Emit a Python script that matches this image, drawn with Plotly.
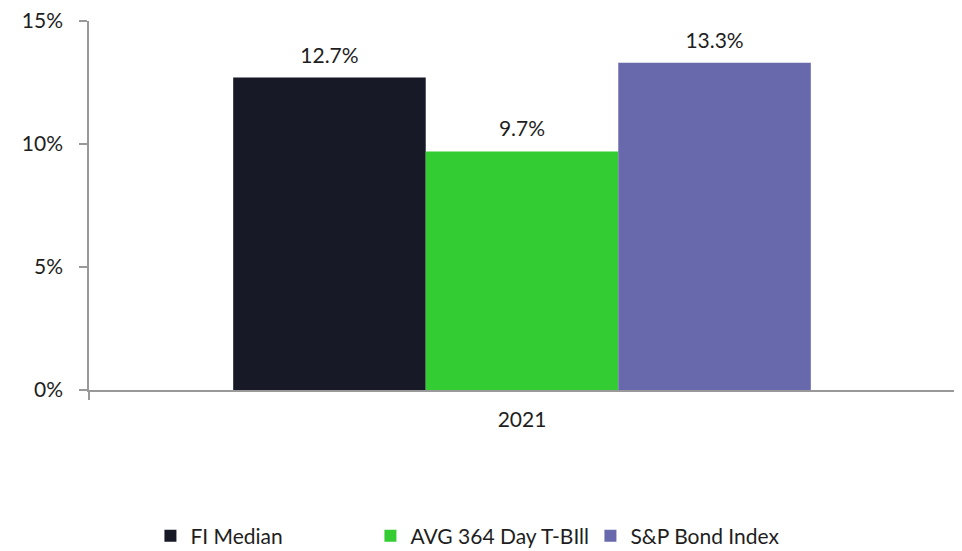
import plotly.graph_objects as go

categories = ["2021"]
series_names = ["FI Median", "AVG 364 Day T-BIll", "S&P Bond Index"]
series_values = [[0.127], [0.097], [0.133]]
series_colors = ["#171927", "#33CC33", "#6869AC"]
y_ticks = [0, 0.05, 0.10, 0.15]
y_tick_labels = ["0%", "5%", "10%", "15%"]

FONT = "Lato, Open Sans, sans-serif"
TXT = "#1e1e1e"

fig = go.Figure()
for i, (name, vals, col) in enumerate(zip(series_names, series_values, series_colors)):
    fig.add_trace(go.Bar(
        x=categories, y=vals, name=name, offsetgroup=str(i),
        marker=dict(color=col, line=dict(width=0)),
    ))
for i, (name, vals) in enumerate(zip(series_names, series_values)):
    fig.add_trace(go.Scatter(
        x=categories, y=vals, offsetgroup=str(i), mode="markers+text",
        marker=dict(size=14, opacity=0),
        text=[f"{v*100:.1f}%" for v in vals],
        textposition="top center",
        textfont=dict(size=21, color=TXT, family=FONT),
        showlegend=False, hoverinfo="skip", cliponaxis=False,
    ))

fig.update_layout(
    width=954, height=545,
    margin=dict(l=81, r=7, t=13, b=163, autoexpand=False),
    paper_bgcolor="white", plot_bgcolor="white",
    barmode="group", bargap=0.333, bargroupgap=0, scattermode="group",
    font=dict(family=FONT, size=21, color=TXT),
    showlegend=True,
    legend=dict(orientation="h", x=0.452, xanchor="center", y=-0.396, yanchor="middle",
                yref="paper", font=dict(size=21, family=FONT, color=TXT),
                itemwidth=30, traceorder="normal", entrywidth=175),
    xaxis=dict(showline=True, linecolor="#999999", linewidth=1.5, ticks="outside",
               tickson="boundaries", ticklen=8, tickcolor="#999999", tickwidth=1.5,
               showgrid=False, tickfont=dict(size=21), automargin=False,
               ticklabelstandoff=10),
    yaxis=dict(range=[0, 0.15], tickvals=y_ticks, ticktext=y_tick_labels,
               showline=True, linecolor="#999999", linewidth=1.5, ticks="outside",
               ticklen=8, tickcolor="#999999", tickwidth=1.5, showgrid=False,
               zeroline=False, tickfont=dict(size=21), automargin=False,
               ticklabelstandoff=12, ticklabeloverflow="allow"),
)

fig.write_html("out.html")
